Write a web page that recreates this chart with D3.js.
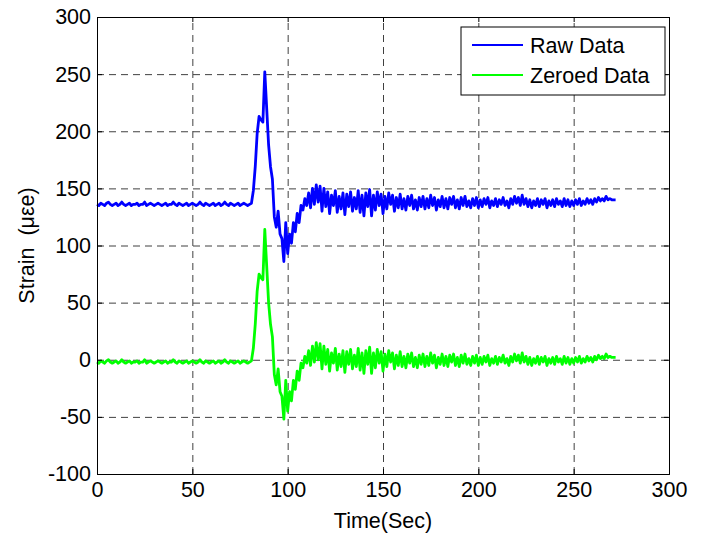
<!DOCTYPE html>
<html>
<head>
<meta charset="utf-8">
<script src="https://cdn.jsdelivr.net/npm/d3@7"></script>
<style>
  body { margin: 0; background: #fff; }
  svg { display: block; font-family: "Liberation Sans", Arial, Helvetica, sans-serif; }
  .tick text { font-size: 21.5px; fill: #000; }
  .grid line { stroke: #404040; stroke-dasharray: 7,5; }
  .grid .domain { display: none; }
</style>
</head>
<body>
<div id="chart"></div>
<script>
// strain samples, one per second starting at t = 0
const sampleInterval = 1;

const rawStrain = [
  136,135,137,136,135,137,138,136,135,136,
  137,135,136,138,136,135,136,137,135,136,
  136,137,135,136,136,138,135,136,137,136,
  135,136,137,136,135,136,137,135,136,136,
  138,136,135,137,136,135,136,137,135,136,
  137,136,135,136,138,136,135,137,136,135,
  136,137,135,136,137,135,136,138,136,135,
  137,136,135,136,137,135,136,137,136,135,
  136,137,148,169,198,213,210,208,252,220,
  188,169,158,125,116,130,110,106,86,120,
  93,110,102,120,112,128,120,135,131,141,
  135,146,133,150,136,153,138,152,130,150,
  134,147,128,144,135,148,129,143,132,146,
  127,145,134,147,130,142,132,148,129,144,
  126,146,134,149,126,144,131,147,135,145,
  128,143,132,146,136,144,130,142,133,145,
  132,141,131,143,135,144,132,140,131,142,
  134,143,132,141,133,144,135,142,131,140,
  134,143,133,141,132,142,136,143,133,140,
  132,142,135,143,134,139,133,141,135,142,
  133,140,134,141,136,142,133,139,135,141,
  134,140,136,142,135,139,133,141,136,143,
  137,142,135,144,136,141,134,140,133,139,
  135,141,134,140,136,141,133,139,135,140,
  134,141,136,139,134,141,135,140,134,139,
  135,140,136,141,135,139,136,141,137,140,
  136,141,138,142,139,141,139,143,140,141,
  140,140,140
];

const zeroedStrain = [
  -2,-3,-1,-2,-3,-1,0,-2,-3,-2,
  -1,-3,-2,0,-2,-3,-2,-1,-3,-2,
  -2,-1,-3,-2,-2,0,-3,-2,-1,-2,
  -3,-2,-1,-2,-3,-2,-1,-3,-2,-2,
  0,-2,-3,-1,-2,-3,-2,-1,-3,-2,
  -1,-2,-3,-2,0,-2,-3,-1,-2,-3,
  -2,-1,-3,-2,-1,-3,-2,0,-2,-3,
  -1,-2,-3,-2,-1,-3,-2,-1,-2,-3,
  -2,-1,10,31,60,75,72,70,114,82,
  50,31,20,-13,-22,-8,-28,-32,-52,-18,
  -45,-28,-36,-18,-26,-10,-18,-3,-7,3,
  -3,8,-5,12,-2,15,0,14,-8,12,
  -4,9,-10,6,-3,10,-9,5,-6,8,
  -11,7,-4,9,-8,4,-6,10,-9,6,
  -12,8,-4,11,-12,6,-7,9,-3,7,
  -10,5,-6,8,-2,6,-8,4,-5,7,
  -6,3,-7,5,-3,6,-6,2,-7,4,
  -4,5,-6,3,-5,6,-3,4,-7,2,
  -4,5,-5,3,-6,4,-2,5,-5,2,
  -6,4,-3,5,-4,1,-5,3,-3,4,
  -5,2,-4,3,-2,4,-5,1,-3,3,
  -4,2,-2,4,-3,1,-5,3,-2,5,
  -1,4,-3,6,-2,3,-4,2,-5,1,
  -3,3,-4,2,-2,3,-5,1,-3,2,
  -4,3,-2,1,-4,3,-3,2,-4,1,
  -3,2,-2,3,-3,1,-2,3,-1,2,
  -2,3,0,4,1,3,1,5,2,3,
  2,2,2
];

const seriesNames = ["Raw Data", "Zeroed Data"];
const seriesColors = ["#0000ff", "#00ff00"];
const xTicks = [0, 50, 100, 150, 200, 250, 300];
const yTicks = [-100, -50, 0, 50, 100, 150, 200, 250, 300];

const width = 701, height = 537;
const margin = {top: 17, right: 32, bottom: 63, left: 97};
const plotW = width - margin.left - margin.right;
const plotH = height - margin.top - margin.bottom;

const svg = d3.select("#chart").append("svg")
    .attr("width", width)
    .attr("height", height);

const x = d3.scaleLinear().domain([0, 300]).range([0, plotW]);
const y = d3.scaleLinear().domain([-100, 300]).range([plotH, 0]);

// plain hyphen for negatives, like the original figure
const fmt = d => String(d);

const g = svg.append("g")
    .attr("transform", "translate(" + margin.left + "," + margin.top + ")");

// dashed grid, inner ticks only
g.append("g")
    .attr("class", "grid")
    .attr("transform", "translate(0," + plotH + ")")
    .call(d3.axisBottom(x).tickValues(xTicks.slice(1, -1)).tickSize(-plotH).tickFormat(""));
g.append("g")
    .attr("class", "grid")
    .call(d3.axisLeft(y).tickValues(yTicks.slice(1, -1)).tickSize(-plotW).tickFormat(""));

// the two series
const series = [rawStrain, zeroedStrain];
const line = d3.line()
    .x((d, i) => x(i * sampleInterval))
    .y(d => y(d));

g.selectAll("path.series")
    .data(series)
    .enter()
    .append("path")
    .attr("class", "series")
    .attr("fill", "none")
    .attr("stroke", (d, i) => seriesColors[i])
    .attr("stroke-width", 2.8)
    .attr("stroke-linejoin", "round")
    .attr("d", line);

// axes with inward ticks on all four sides
g.append("g")
    .attr("transform", "translate(0," + plotH + ")")
    .call(d3.axisBottom(x).tickValues(xTicks).tickSize(-5).tickPadding(8).tickFormat(fmt));
g.append("g")
    .call(d3.axisLeft(y).tickValues(yTicks).tickSize(-5).tickPadding(6).tickFormat(fmt));
g.append("g")
    .call(d3.axisTop(x).tickValues(xTicks).tickSize(-5).tickFormat(""));
g.append("g")
    .attr("transform", "translate(" + plotW + ",0)")
    .call(d3.axisRight(y).tickValues(yTicks).tickSize(-5).tickFormat(""));

g.selectAll(".domain").attr("stroke", "#000");
g.selectAll(".tick line").filter(function() { return !this.closest(".grid"); }).attr("stroke", "#000");

// axis titles
svg.append("text")
    .attr("x", margin.left + plotW / 2)
    .attr("y", 528)
    .attr("text-anchor", "middle")
    .attr("font-size", 21.5)
    .text("Time(Sec)");

svg.append("text")
    .attr("transform", "translate(34," + (margin.top + plotH / 2) + ") rotate(-90)")
    .attr("text-anchor", "middle")
    .attr("font-size", 21.5)
    .style("white-space", "pre")
    .text("Strain  (\u03bc\u03b5e)");

// legend
const legend = svg.append("g").attr("transform", "translate(461,27)");
legend.append("rect")
    .attr("width", 204)
    .attr("height", 68)
    .attr("fill", "#fff")
    .attr("stroke", "#000");

seriesNames.forEach((name, i) => {
    const ly = 18 + i * 30;
    legend.append("line")
        .attr("x1", 11).attr("x2", 62)
        .attr("y1", ly).attr("y2", ly)
        .attr("stroke", seriesColors[i])
        .attr("stroke-width", 2);
    legend.append("text")
        .attr("x", 69)
        .attr("y", ly + 8)
        .attr("font-size", 21.5)
        .text(name);
});
</script>
</body>
</html>
